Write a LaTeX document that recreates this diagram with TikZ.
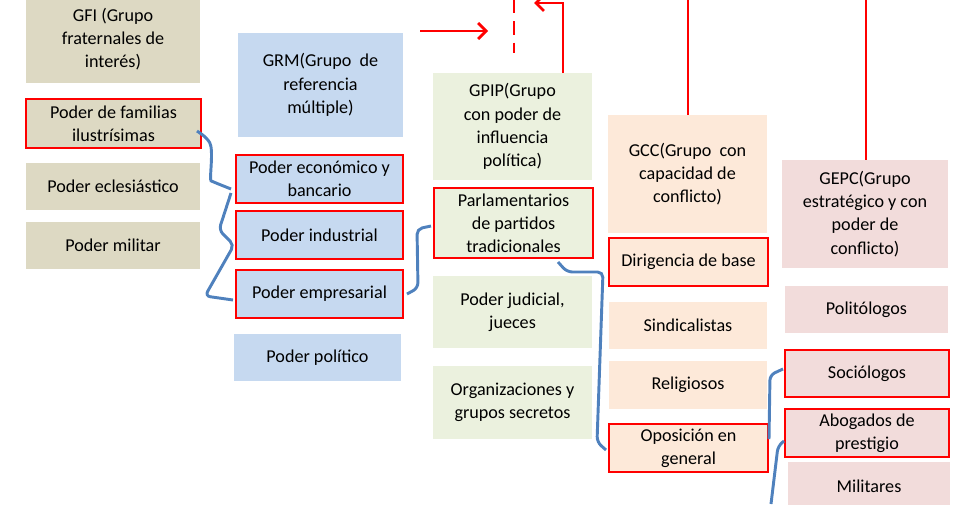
\documentclass[tikz,border=0pt]{standalone}
\usepackage{fontspec}
\setmainfont{Carlito}
\usetikzlibrary{arrows.meta}
\begin{document}
\begin{tikzpicture}[x=0.75pt,y=-0.75pt,
  bx/.style={inner sep=0pt,align=center,font=\fontsize{13.6}{17.4}\selectfont},
  rl/.style={draw=red,line width=2.2pt},
  bl/.style={color={rgb,255:red,79;green,129;blue,189},line width=2.2pt,rounded corners=4pt},
  arr/.style={red,line width=2pt,-{Straight Barb[length=6pt,width=12pt]}}]
\useasboundingbox (0,0) rectangle (960,504);
\definecolor{tan}{RGB}{221,217,195}
\definecolor{blu}{RGB}{198,217,240}
\definecolor{grn}{RGB}{235,241,222}
\definecolor{pch}{RGB}{253,233,217}
\definecolor{pnk}{RGB}{242,220,219}
\newcommand{\bxx}[7]{%
  \fill[#5] (#2,#3) rectangle (#4,#6);
  \node[bx] (#1) at ({(#2+#4)/2},{(#3+#6)/2}) {#7};}
\newcommand{\rbx}[7]{%
  \fill[#5] (#2,#3) rectangle (#4,#6);
  \draw[rl] (#2,#3) rectangle (#4,#6);
  \node[bx] (#1) at ({(#2+#4)/2},{(#3+#6)/2}) {#7};}
\bxx{gfi}{26}{-5}{200}{tan}{83}{GFI (Grupo\\fraternales de\\interés)}
\rbx{fam}{26}{99}{201}{tan}{148}{Poder de familias\\ilustrísimas}
\bxx{ecl}{26}{163}{200}{tan}{210}{Poder eclesiástico}
\bxx{mil}{26}{222}{200}{tan}{269}{Poder militar}
\bxx{grm}{238}{33}{403}{blu}{137}{GRM(Grupo\ \ de\\referencia\\múltiple)}
\rbx{eco}{236}{155}{403}{blu}{203}{Poder económico y\\bancario}
\rbx{ind}{236}{211}{403}{blu}{259}{Poder industrial}
\rbx{emp}{236}{270}{403}{blu}{318}{Poder empresarial}
\bxx{pol}{234}{334}{401}{blu}{381}{Poder político}
\bxx{gpip}{433}{73}{592}{grn}{180}{GPIP(Grupo\\con poder de\\influencia\\política)}
\rbx{par}{434}{188}{593}{grn}{258}{Parlamentarios\\de partidos\\tradicionales}
\bxx{jud}{433}{276}{592}{grn}{348}{Poder judicial,\\jueces}
\bxx{org}{433}{366}{592}{grn}{439}{Organizaciones y\\grupos secretos}
\bxx{gcc}{608}{115}{767}{pch}{233}{GCC(Grupo\ \ con\\capacidad de\\conflicto)}
\rbx{dir}{609}{238}{768}{pch}{286}{Dirigencia de base}
\bxx{sin}{609}{302}{767}{pch}{349}{Sindicalistas}
\bxx{rel}{609}{361}{767}{pch}{409}{Religiosos}
\rbx{opo}{609}{424}{768}{pch}{472}{Oposición en\\general}
\bxx{gepc}{782}{160}{948}{pnk}{268}{GEPC(Grupo\\estratégico y con\\poder de\\conflicto)}
\bxx{plt}{785}{286}{948}{pnk}{333}{Politólogos}
\rbx{soc}{785}{350}{949}{pnk}{397}{Sociólogos}
\rbx{abo}{785}{409}{949}{pnk}{457}{Abogados de\\prestigio}
\bxx{mlt}{788}{462}{950}{pnk}{510}{Militares}
% red connectors
\coordinate (a1) at (420,31); \coordinate (a2) at (488,31);
\draw[arr] (a1) -- (a2);
\coordinate (d1) at (514,0); \coordinate (d2) at (514,53);
\draw[red,line width=2pt,dash pattern=on 10pt off 6pt] (d1) -- (d2);
\coordinate (g0) at (563,73); \coordinate (g1) at (534,3);
\draw[arr] (g0) |- (g1);
\coordinate (c1) at (688,0); \coordinate (c2) at (688,115); \draw[red,line width=2pt] (c1) -- (c2);
\coordinate (e1) at (866,0); \coordinate (e2) at (866,160); \draw[red,line width=2pt] (e1) -- (e2);
% blue braces
\coordinate (b1) at (197,131); \coordinate (b2) at (231,189);
\draw[bl] (b1) -- (207,138) .. controls (214,150) and (209,180) .. (216,183) -- (b2);
\coordinate (b3) at (231,193); \coordinate (b4) at (233,300);
\draw[bl] (b3) -- (219,230) -- (234,245) -- (205,296) -- (b4);
\coordinate (b5) at (407,294); \coordinate (b6) at (431,226);
\draw[bl] (b5) -- (418,288) -- (417,229) -- (b6);
\coordinate (b7) at (558,262); \coordinate (b8) at (606,450);
\draw[bl] (b7) -- (567,272) -- (603,272) -- (597,442) -- (b8);
\coordinate (b9) at (783,369); \coordinate (b10) at (769,439);
\draw[bl] (b9) -- (770,375) -- (b10);
\coordinate (b11) at (784,441); \coordinate (b12) at (771,504);
\draw[bl] (b11) -- (778,446) -- (b12);
\end{tikzpicture}
\end{document}
